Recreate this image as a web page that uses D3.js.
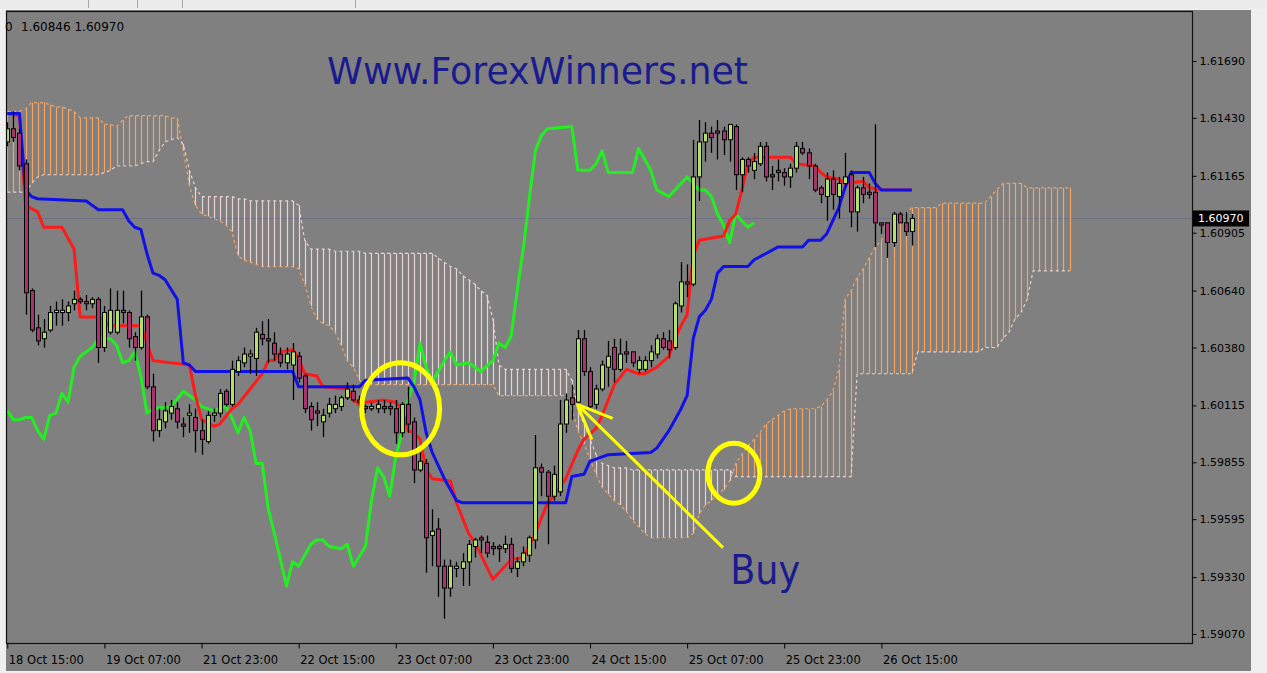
<!DOCTYPE html>
<html>
<head>
<meta charset="utf-8">
<script src="https://cdn.jsdelivr.net/npm/d3@7"></script>
<style>
  body { margin: 0; background: #efefef; }
  svg { display: block; }
  .axis text { font-family: "DejaVu Sans", sans-serif; fill: #000; }
  .axis path { display: none; }
  .axis line { stroke: #000; }
</style>
</head>
<body>
<svg id="chart" width="1267" height="673"></svg>
<script>
// H1 candles, bar 0 = 18 Oct 15:00
var barOpen = [
  1.6132,1.6138,1.6136,1.6122,1.6064,1.6047,1.6042,1.6046,1.6054,1.6054,
  1.6054,1.6058,1.6060,1.6059,1.6058,1.6060,1.6038,1.6045,1.6045,1.6055,
  1.6054,1.6043,1.6038,1.6052,1.6020,1.6000,1.6004,1.6008,1.6010,1.6003,
  1.6007,1.6006,1.6000,1.5995,1.6007,1.6008,1.6018,1.6012,1.6027,1.6031,
  1.6034,1.6033,1.6044,1.6042,1.6040,1.6035,1.6031,1.6030,1.6034,1.6025,
  1.6011,1.6009,1.6004,1.6008,1.6010,1.6011,1.6015,1.6018,1.6014,1.6011,
  1.6010,1.6010,1.6011,1.6011,1.6010,1.5999,1.6012,1.6004,1.5982,1.5985,
  1.5952,1.5955,1.5938,1.5928,1.5937,1.5937,1.5940,1.5947,1.5951,1.5949,
  1.5947,1.5947,1.5946,1.5948,1.5937,1.5940,1.5943,1.5950,1.5983,1.5981,
  1.5970,1.5972,1.6003,1.6015,1.6013,1.6042,1.6027,1.6012,1.6019,1.6029,
  1.6038,1.6028,1.6036,1.6036,1.6028,1.6028,1.6032,1.6035,1.6042,1.6041,
  1.6038,1.6057,1.6068,1.6067,1.6116,1.6132,1.6136,1.6137,1.6137,1.6133,
  1.6139,1.6117,1.6124,1.6119,1.6122,1.6130,1.6117,1.6119,1.6118,1.6116,
  1.6120,1.6129,1.6127,1.6121,1.6111,1.6107,1.6115,1.6107,1.6113,1.6117,
  1.6100,1.6111,1.6109,1.6109,1.6095,1.6095,1.6086,1.6099,1.6095,1.6091];
var barHigh = [
  1.6141,1.6146,1.6138,1.6124,1.6065,1.6053,1.6051,1.6057,1.6059,1.6060,
  1.6059,1.6064,1.6061,1.6062,1.6061,1.6061,1.6057,1.6065,1.6064,1.6064,
  1.6055,1.6045,1.6064,1.6053,1.6026,1.6010,1.6013,1.6014,1.6013,1.6006,
  1.6012,1.6010,1.6005,1.6009,1.6010,1.6019,1.6019,1.6032,1.6034,1.6038,
  1.6037,1.6047,1.6050,1.6051,1.6045,1.6038,1.6038,1.6040,1.6036,1.6026,
  1.6013,1.6013,1.6010,1.6015,1.6016,1.6016,1.6022,1.6021,1.6016,1.6012,
  1.6013,1.6014,1.6014,1.6013,1.6014,1.6013,1.6020,1.6006,1.5990,1.5987,
  1.5964,1.5960,1.5941,1.5941,1.5940,1.5944,1.5950,1.5951,1.5952,1.5952,
  1.5949,1.5948,1.5952,1.5951,1.5942,1.5947,1.5952,1.5998,1.5985,1.5982,
  1.5984,1.6014,1.6017,1.6021,1.6046,1.6046,1.6029,1.6021,1.6032,1.6041,
  1.6042,1.6042,1.6041,1.6036,1.6034,1.6034,1.6039,1.6044,1.6045,1.6046,
  1.6059,1.6077,1.6076,1.6133,1.6142,1.6141,1.6139,1.6142,1.6139,1.6140,
  1.6140,1.6125,1.6125,1.6127,1.6132,1.6132,1.6121,1.6124,1.6120,1.6122,
  1.6132,1.6132,1.6129,1.6122,1.6112,1.6118,1.6119,1.6116,1.6127,1.6119,
  1.6112,1.6116,1.6113,1.6140,1.6095,1.6095,1.6100,1.6100,1.6100,1.6099];
var barLow = [
  1.6130,1.6132,1.6119,1.6053,1.6045,1.6039,1.6038,1.6045,1.6048,1.6048,
  1.6050,1.6055,1.6058,1.6055,1.6056,1.6031,1.6036,1.6044,1.6044,1.6049,
  1.6038,1.6032,1.6037,1.6019,1.5995,1.5997,1.6001,1.6005,1.6001,1.5997,
  1.5999,1.5990,1.5989,1.5994,1.6004,1.6006,1.6011,1.6011,1.6025,1.6029,
  1.6026,1.6025,1.6039,1.6031,1.6032,1.6029,1.6028,1.6014,1.6022,1.6008,
  1.6000,1.6002,1.5997,1.6006,1.6008,1.6009,1.6014,1.6013,1.6010,1.6008,
  1.6009,1.6008,1.6008,1.6007,1.5994,1.5997,1.5999,1.5976,1.5981,1.5935,
  1.5938,1.5924,1.5914,1.5924,1.5933,1.5929,1.5929,1.5942,1.5944,1.5942,
  1.5943,1.5940,1.5944,1.5935,1.5933,1.5938,1.5940,1.5946,1.5970,1.5948,
  1.5968,1.5970,1.5999,1.6005,1.6012,1.6025,1.6010,1.6010,1.6018,1.6020,
  1.6022,1.6027,1.6031,1.6029,1.6026,1.6027,1.6029,1.6033,1.6037,1.6033,
  1.6037,1.6054,1.6061,1.6066,1.6105,1.6123,1.6127,1.6124,1.6126,1.6123,
  1.6110,1.6109,1.6118,1.6115,1.6121,1.6114,1.6110,1.6114,1.6112,1.6111,
  1.6118,1.6126,1.6115,1.6109,1.6104,1.6096,1.6101,1.6097,1.6111,1.6093,
  1.6091,1.6104,1.6106,1.6084,1.6090,1.6079,1.6084,1.6095,1.6089,1.60846];
var barClose = [
  1.6138,1.6134,1.6121,1.6063,1.6046,1.6041,1.6045,1.6054,1.6055,1.6055,
  1.6057,1.6060,1.6059,1.6058,1.6060,1.6038,1.6054,1.6055,1.6055,1.6054,
  1.6042,1.6038,1.6052,1.6020,1.6000,1.6005,1.6009,1.6011,1.6004,1.6002,
  1.6008,1.6000,1.5996,1.6007,1.6008,1.6017,1.6012,1.6028,1.6032,1.6035,
  1.6035,1.6045,1.6042,1.6041,1.6035,1.6031,1.6035,1.6036,1.6024,1.6010,
  1.6005,1.6008,1.6007,1.6012,1.6012,1.6015,1.6019,1.6014,1.6013,1.6010,
  1.6011,1.6012,1.6010,1.6010,1.5999,1.6012,1.6003,1.5982,1.5986,1.5951,
  1.5954,1.5938,1.5928,1.5938,1.5938,1.5940,1.5948,1.5950,1.5950,1.5944,
  1.5946,1.5946,1.5948,1.5937,1.5940,1.5944,1.5951,1.5983,1.5981,1.5970,
  1.5980,1.6003,1.6014,1.6012,1.6042,1.6027,1.6011,1.6019,1.6030,1.6034,
  1.6028,1.6035,1.6035,1.6031,1.6032,1.6032,1.6036,1.6042,1.6038,1.6037,
  1.6058,1.6068,1.6067,1.6116,1.6132,1.6136,1.6134,1.6136,1.6133,1.6140,
  1.6117,1.6124,1.6121,1.6123,1.6130,1.6116,1.6116,1.6118,1.6116,1.6120,
  1.6130,1.6127,1.6121,1.6110,1.6108,1.6115,1.6108,1.6113,1.6116,1.6100,
  1.6111,1.6108,1.6108,1.6095,1.6094,1.6086,1.6099,1.6095,1.6091,1.60970];

// ichimoku lines as [bar, price]
var tenkan = [[0,1.6145],[2,1.6144],[3,1.6103],[5,1.6100],[6,1.6093],[9,1.6093],[11,1.6083],[12,1.6052],
  [15,1.6052],[17,1.6048],[22,1.6048],[24,1.6032],[30,1.6030],[31,1.6016],[32,1.6005],[34,1.6002],
  [35,1.6003],[37,1.6010],[38,1.6012],[40,1.6019],[42,1.6026],[43,1.6032],[44,1.6032],[45,1.6036],
  [47,1.6037],[48,1.6033],[49,1.6026],[51,1.6025],[52,1.6020],[56,1.6019],[57,1.6014],[58,1.6012],
  [59,1.6013],[62,1.6014],[64,1.6013],[65,1.6010],[66,1.6000],[67,1.5999],[68,1.5996],[69,1.5982],
  [70,1.5978],[73,1.5977],[74,1.5967],[76,1.5953],[77,1.5949],[80,1.5932],[83,1.5941],[85,1.5942],
  [87,1.5953],[89,1.5967],[90,1.5970],[92,1.5978],[94,1.5991],[95,1.5996],[97,1.6001],[98,1.6007],
  [100,1.6021],[102,1.6028],[104,1.6026],[105,1.6026],[107,1.6029],[109,1.6034],[110,1.6042],
  [111,1.6048],[112,1.6053],[113,1.6080],[114,1.6087],[118,1.6089],[119,1.6096],[120,1.6099],
  [121,1.6110],[122,1.6122],[123,1.6125],[129,1.6125],[130,1.6122],[133,1.6121],[134,1.6118],
  [135,1.6116],[137,1.6115],[138,1.6113],[141,1.6114],[142,1.6111],[144,1.6110],[149,1.6110]];
var kijun = [[0,1.6145],[2,1.6145],[3,1.6110],[4,1.6107],[5,1.6106],[13,1.6105],[14,1.6103],[15,1.6101],
  [19,1.6101],[20,1.6096],[21,1.6093],[22,1.6092],[23,1.6081],[24,1.6072],[25,1.6071],[26,1.6069],
  [28,1.6060],[29,1.6031],[30,1.6030],[31,1.6027],[47,1.6027],[48,1.6020],[58,1.6020],[59,1.6023],
  [66,1.6024],[67,1.6020],[68,1.6014],[69,1.5999],[70,1.5990],[72,1.5978],[74,1.5968],[75,1.5967],
  [92,1.5967],[93,1.5979],[95,1.5980],[96,1.5986],[97,1.5987],[99,1.5989],[106,1.5990],[107,1.5992],
  [108,1.5996],[109,1.6000],[110,1.6005],[111,1.6010],[112,1.6016],[113,1.6042],[114,1.6052],
  [115,1.6055],[116,1.6060],[117,1.6072],[118,1.6075],[122,1.6075],[123,1.6078],[125,1.6081],
  [127,1.6084],[131,1.6084],[132,1.6087],[134,1.6087],[135,1.6090],[136,1.6096],[137,1.6102],
  [138,1.6111],[139,1.6118],[142,1.6118],[143,1.6113],[144,1.6110],[149,1.6110]];
var chikou = [[0,1.6009],[1,1.6005],[2,1.6005],[3,1.6006],[4,1.6006],[5,1.6000],[6,1.5996],[7,1.6007],
  [8,1.6008],[9,1.6017],[10,1.6013],[11,1.6029],[12,1.6034],[13,1.6036],[14,1.6038],[15,1.6042],
  [17,1.6042],[18,1.6039],[19,1.6031],[20,1.6032],[21,1.6036],[22,1.6025],[23,1.6008],[24,1.6010],
  [27,1.6011],[29,1.6018],[31,1.6014],[32,1.6011],[34,1.6009],[36,1.6011],[37,1.6006],[38,1.5999],
  [39,1.6006],[40,1.6000],[41,1.5985],[42,1.5985],[43,1.5964],[44,1.5953],[45,1.5941],[46,1.5929],
  [47,1.5940],[48,1.5938],[50,1.5948],[51,1.5950],[52,1.5950],[53,1.5947],[55,1.5946],[56,1.5948],
  [57,1.5938],[59,1.5947],[60,1.5968],[61,1.5983],[62,1.5979],[63,1.5970],[64,1.5988],[65,1.5999],
  [66,1.6014],[67,1.6022],[68,1.6040],[69,1.6029],[70,1.6022],[72,1.6032],[73,1.6036],[74,1.6030],
  [76,1.6031],[78,1.6027],[80,1.6032],[81,1.6040],[82,1.6038],[83,1.6043],[84,1.6064],[85,1.6083],
  [86,1.6106],[87,1.6128],[88,1.6135],[89,1.6138],[93,1.6139],[94,1.6119],[96,1.6119],[97,1.6122],
  [98,1.6128],[99,1.6118],[103,1.6118],[104,1.6129],[106,1.6119],[107,1.6110],[109,1.6107],
  [110,1.6110],[112,1.6116],[113,1.6113],[114,1.6110],[115,1.6110],[116,1.6107],[117,1.6099],
  [118,1.6094],[119,1.6086],[120,1.6099],[121,1.6096],[122,1.6093],[123,1.6095]];

// kumo, one value per bar (26 bars ahead of the last candle)
var spanA = [
  1.6146,1.6146,1.6146,1.6147,1.6150,1.6150,1.6150,1.6149,1.6148,1.6148,
  1.6147,1.6146,1.6143,1.6143,1.6143,1.6143,1.6140,1.6140,1.6139,1.6142,
  1.6144,1.6144,1.6144,1.6144,1.6144,1.6144,1.6144,1.6143,1.6143,1.6128,
  1.6112,1.6103,1.6099,1.6098,1.6097,1.6096,1.6094,1.6091,1.6080,1.6078,
  1.6077,1.6076,1.6075,1.6075,1.6075,1.6075,1.6075,1.6075,1.6074,1.6067,
  1.6057,1.6051,1.6049,1.6048,1.6045,1.6039,1.6032,1.6029,1.6023,1.6021,
  1.6021,1.6021,1.6021,1.6021,1.6021,1.6021,1.6021,1.6021,1.6021,1.6021,
  1.6021,1.6021,1.6021,1.6021,1.6021,1.6021,1.6021,1.6021,1.6021,1.6021,
  1.6021,1.6016,1.6016,1.6016,1.6016,1.6016,1.6016,1.6016,1.6016,1.6016,
  1.6016,1.6016,1.6016,1.6010,1.6000,1.5994,1.5987,1.5980,1.5974,1.5971,
  1.5968,1.5966,1.5963,1.5959,1.5956,1.5953,1.5951,1.5951,1.5951,1.5951,
  1.5951,1.5951,1.5951,1.5953,1.5962,1.5966,1.5968,1.5971,1.5973,1.5977,
  1.5985,1.5989,1.5993,1.5996,1.5999,1.6003,1.6005,1.6007,1.6009,1.6010,
  1.6010,1.6010,1.6010,1.6010,1.6011,1.6014,1.6018,1.6028,1.6060,1.6064,
  1.6070,1.6074,1.6079,1.6084,1.6087,1.6091,1.6094,1.6096,1.6099,1.6102,
  1.6102,1.6102,1.6102,1.6102,1.6104,1.6104,1.6104,1.6104,1.6104,1.6104,
  1.6104,1.6104,1.6107,1.6110,1.6113,1.6113,1.6113,1.6113,1.6111,1.6111,
  1.6111,1.6111,1.6111,1.6111,1.6111,1.6111];
var spanB = [
  1.6109,1.6109,1.6109,1.6109,1.6113,1.6116,1.6117,1.6117,1.6117,1.6117,
  1.6117,1.6117,1.6117,1.6117,1.6117,1.6117,1.6118,1.6119,1.6121,1.6121,
  1.6121,1.6121,1.6122,1.6123,1.6123,1.6128,1.6132,1.6133,1.6134,1.6131,
  1.6119,1.6111,1.6107,1.6107,1.6107,1.6107,1.6107,1.6107,1.6106,1.6106,
  1.6105,1.6105,1.6105,1.6105,1.6105,1.6105,1.6105,1.6105,1.6103,1.6087,
  1.6083,1.6083,1.6083,1.6083,1.6082,1.6082,1.6082,1.6082,1.6082,1.6081,
  1.6081,1.6081,1.6081,1.6081,1.6081,1.6081,1.6081,1.6081,1.6081,1.6081,
  1.6081,1.6079,1.6077,1.6075,1.6074,1.6071,1.6069,1.6067,1.6064,1.6062,
  1.6051,1.6030,1.6028,1.6028,1.6028,1.6028,1.6028,1.6028,1.6028,1.6028,
  1.6028,1.6028,1.6028,1.6023,1.6010,1.6003,1.5996,1.5989,1.5985,1.5984,
  1.5983,1.5983,1.5983,1.5982,1.5982,1.5982,1.5982,1.5982,1.5982,1.5982,
  1.5982,1.5982,1.5982,1.5982,1.5982,1.5982,1.5982,1.5982,1.5982,1.5982,
  1.5979,1.5979,1.5979,1.5979,1.5979,1.5979,1.5979,1.5979,1.5979,1.5979,
  1.5979,1.5979,1.5979,1.5979,1.5979,1.5979,1.5979,1.5979,1.5979,1.5979,
  1.6026,1.6026,1.6026,1.6026,1.6026,1.6026,1.6026,1.6026,1.6026,1.6026,
  1.6036,1.6036,1.6036,1.6036,1.6036,1.6036,1.6036,1.6036,1.6036,1.6036,
  1.6036,1.6038,1.6038,1.6038,1.6042,1.6045,1.6051,1.6054,1.6060,1.6073,
  1.6073,1.6073,1.6073,1.6073,1.6073,1.6073];

var timeTickBars = [0, 16, 32, 48, 64, 80, 96, 112, 128, 144];
var timeTickLabels = ['18 Oct 15:00','19 Oct 07:00','21 Oct 23:00','22 Oct 15:00','23 Oct 07:00',
  '23 Oct 23:00','24 Oct 15:00','25 Oct 07:00','25 Oct 23:00','26 Oct 15:00'];
var priceTicks = [1.61690, 1.61430, 1.61165, 1.60905, 1.60640, 1.60380, 1.60115, 1.59855, 1.59595, 1.59330, 1.59070];
var lastPrice = 1.60970;
var headerValues = ['0', '1.60846 1.60970'];

w = 1267;
h = 673;
frameL = 6; frameR = 1192; frameT = 11; frameB = 643;

var svg = d3.select('#chart');

var xScale = d3.scaleLinear().domain([0, 175]).range([7.3, 7.3 + 175 * 6.07]);
var yScale = d3.scaleLinear().domain([1.5907, 1.6169]).range([634, 61]);

// window chrome + chart background
svg.append('rect').attr('width', w).attr('height', h).attr('fill', '#efefef');
svg.append('rect').attr('x', 6).attr('y', 10).attr('width', 1245).attr('height', 661).attr('fill', '#808080');
svg.append('rect').attr('x', 0).attr('y', 0).attr('width', w).attr('height', 9).attr('fill', '#ececec');
[88, 137, 182, 355].forEach(function(sx) {
  svg.append('line').attr('x1', sx + 0.5).attr('x2', sx + 0.5).attr('y1', 0).attr('y2', 8)
    .attr('stroke', '#a8a8a8');
});

svg.append('defs').append('clipPath').attr('id', 'plot')
  .append('rect').attr('x', frameL + 1).attr('y', frameT + 1)
  .attr('width', frameR - frameL - 1).attr('height', frameB - frameT - 1);

var plot = svg.append('g').attr('clip-path', 'url(#plot)');

// bid line
plot.append('line')
  .attr('x1', frameL).attr('x2', frameR)
  .attr('y1', Math.round(yScale(lastPrice)) + 0.5).attr('y2', Math.round(yScale(lastPrice)) + 0.5)
  .attr('stroke', '#6c7284').attr('stroke-width', 1);

// kumo hatch
var sandy = '#f4a460', thistle = '#e8d2d4';
var kumo = spanA.map(function(a, i) { return {i: i, a: a, b: spanB[i]}; });
plot.selectAll('.kumo').data(kumo).enter().append('line')
  .attr('class', 'kumo')
  .attr('x1', function(d) { return Math.round(xScale(d.i)) + 0.5; })
  .attr('x2', function(d) { return Math.round(xScale(d.i)) + 0.5; })
  .attr('y1', function(d) { return yScale(d.a); })
  .attr('y2', function(d) { return yScale(d.b); })
  .attr('stroke', function(d) { return d.a >= d.b ? sandy : thistle; })
  .attr('stroke-width', 1.2);

var spanLine = d3.line().x(function(d, i) { return xScale(i); }).y(function(d) { return yScale(d); });
plot.append('path').datum(spanA).attr('d', spanLine).attr('fill', 'none')
  .attr('stroke', sandy).attr('stroke-width', 1.2).attr('stroke-dasharray', '3,3');
plot.append('path').datum(spanB).attr('d', spanLine).attr('fill', 'none')
  .attr('stroke', thistle).attr('stroke-width', 1.2).attr('stroke-dasharray', '3,3');

// ichimoku lines
var ptLine = d3.line().x(function(d) { return xScale(d[0]); }).y(function(d) { return yScale(d[1]); });
[[chikou, '#22ee22'], [tenkan, '#ff1a1a'], [kijun, '#1010e8']].forEach(function(s) {
  plot.append('path').datum(s[0]).attr('d', ptLine).attr('fill', 'none')
    .attr('stroke', s[1]).attr('stroke-width', 3).attr('stroke-linejoin', 'round');
});

// candles
var candles = barOpen.map(function(o, i) {
  return {i: i, o: o, h: barHigh[i], l: barLow[i], c: barClose[i]};
});
var cg = plot.selectAll('.candle').data(candles).enter().append('g').attr('class', 'candle');
cg.append('line')
  .attr('x1', function(d) { return Math.round(xScale(d.i)) + 0.5; })
  .attr('x2', function(d) { return Math.round(xScale(d.i)) + 0.5; })
  .attr('y1', function(d) { return yScale(d.h); })
  .attr('y2', function(d) { return yScale(d.l); })
  .attr('stroke', '#000').attr('stroke-width', 1.3);
cg.append('rect')
  .attr('x', function(d) { return Math.round(xScale(d.i)) - 1.5; })
  .attr('y', function(d) { return Math.min(yScale(d.o), yScale(d.c)); })
  .attr('width', 4)
  .attr('height', function(d) { return Math.max(1, Math.abs(yScale(d.o) - yScale(d.c))); })
  .attr('fill', function(d) { return d.c >= d.o ? '#b2e06a' : '#a8336f'; })
  .attr('stroke', '#000').attr('stroke-width', 1);

// frame
svg.append('rect').attr('x', frameL + 0.5).attr('y', frameT + 0.5)
  .attr('width', frameR - frameL).attr('height', frameB - frameT)
  .attr('fill', 'none').attr('stroke', '#111').attr('stroke-width', 1.2);

// price axis
var yAxis = d3.axisRight(yScale).tickValues(priceTicks).tickFormat(d3.format('.5f')).tickSize(4);
var yAxisG = svg.append('g').attr('class', 'axis')
  .attr('transform', 'translate(' + (frameR + 0.5) + ',0)').call(yAxis);
yAxisG.selectAll('text').style('font-size', '11px');

// time axis
var xAxis = d3.axisBottom(xScale).tickValues(timeTickBars)
  .tickFormat(function(d, i) { return timeTickLabels[i]; }).tickSize(5);
var xAxisG = svg.append('g').attr('class', 'axis')
  .attr('transform', 'translate(0,' + (frameB + 0.5) + ')').call(xAxis);
xAxisG.selectAll('text').style('font-size', '11.5px')
  .attr('text-anchor', 'start').attr('x', 1).attr('y', 12);

// last price tag
svg.append('rect').attr('x', frameR + 1).attr('y', yScale(lastPrice) - 8)
  .attr('width', 56).attr('height', 16).attr('fill', '#000');
svg.append('text').attr('x', frameR + 6).attr('y', yScale(lastPrice) + 4)
  .attr('font-family', 'DejaVu Sans, sans-serif').attr('font-size', '11px').attr('fill', '#fff')
  .text(d3.format('.5f')(lastPrice));

// header values
svg.append('text').attr('x', 5).attr('y', 31)
  .attr('font-family', 'DejaVu Sans, sans-serif').attr('font-size', '12px').attr('fill', '#000')
  .text(headerValues[0]);
svg.append('text').attr('x', 21).attr('y', 31)
  .attr('font-family', 'DejaVu Sans, sans-serif').attr('font-size', '12px').attr('fill', '#000')
  .text(headerValues[1]);

// watermark
svg.append('text').attr('x', 327).attr('y', 84)
  .attr('font-family', 'DejaVu Sans, sans-serif').attr('font-size', '37px').attr('fill', '#1b1b90')
  .attr('textLength', 421).attr('lengthAdjust', 'spacingAndGlyphs')
  .text('Www.ForexWinners.net');

// annotations
var ringBig = {bar: 64.8, price: 1.6010, rx: 39, ry: 46};
var ringSmall = {bar: 119.7, price: 1.59805, rx: 26, ry: 30};
var arrowTip = {bar: 93.9, price: 1.6012}, arrowTail = {bar: 117.9, price: 1.59465};
var buyAt = {bar: 119.1, price: 1.5930};

[ringBig, ringSmall].forEach(function(r) {
  svg.append('ellipse').attr('cx', xScale(r.bar)).attr('cy', yScale(r.price))
    .attr('rx', r.rx).attr('ry', r.ry)
    .attr('fill', 'none').attr('stroke', '#ffff00').attr('stroke-width', 5);
});

var tx = xScale(arrowTip.bar), ty = yScale(arrowTip.price);
var ex = xScale(arrowTail.bar), ey = yScale(arrowTail.price);
var ang = Math.atan2(ey - ty, ex - tx);
svg.append('line').attr('x1', tx).attr('y1', ty).attr('x2', ex).attr('y2', ey)
  .attr('stroke', '#ffff00').attr('stroke-width', 3);
[-0.4, 0.4].forEach(function(da) {
  svg.append('line').attr('x1', tx).attr('y1', ty)
    .attr('x2', tx + 38 * Math.cos(ang + da)).attr('y2', ty + 38 * Math.sin(ang + da))
    .attr('stroke', '#ffff00').attr('stroke-width', 3);
});

svg.append('text').attr('x', xScale(buyAt.bar)).attr('y', yScale(buyAt.price))
  .attr('font-family', 'DejaVu Sans, sans-serif').attr('font-size', '40px').attr('fill', '#1b1b90')
  .attr('textLength', 70).attr('lengthAdjust', 'spacingAndGlyphs')
  .text('Buy');
</script>
</body>
</html>
